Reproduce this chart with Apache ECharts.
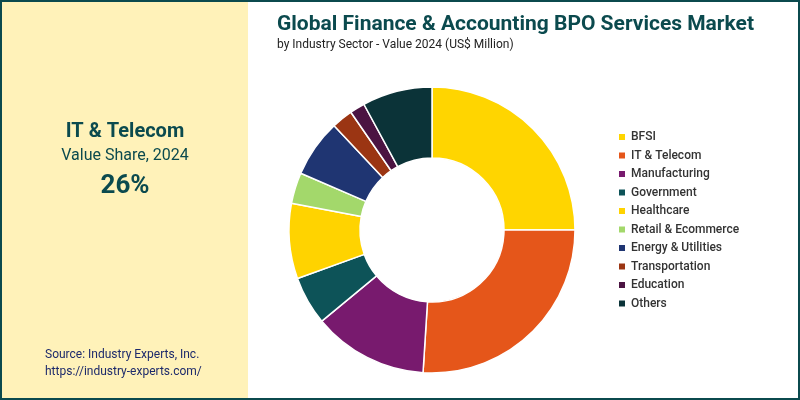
<!DOCTYPE html><html><head><meta charset="utf-8"><script src="https://cdn.jsdelivr.net/npm/echarts@6/dist/echarts.min.js"></script>
<style>html,body{margin:0;padding:0;}#c{width:800px;height:400px;}</style></head><body><div id="c"></div><script>
const categories=['BFSI','IT & Telecom','Manufacturing','Government','Healthcare','Retail & Ecommerce','Energy & Utilities','Transportation','Education','Others'];
const values=[25,26,13,5.5,8.5,3.5,6.5,2.4,1.7,7.9];
const colors=['#FFD500','#E5561A','#781A6E','#0D5358','#FFD300','#A3D86B','#1F3572','#9B3513','#4B1442','#0B3338'];
const chart=echarts.init(document.getElementById('c'));
const dark='#0B4A4E';
chart.setOption({
 animation:false,
 graphic:[
  {type:'rect',shape:{x:1,y:1,width:798,height:398},style:{fill:'#fff',stroke:dark,lineWidth:2},z:-10},
  {type:'rect',shape:{x:2,y:2,width:246,height:396},style:{fill:'#FFF2B9'},z:-9},
  {type:'text',x:125,y:122,style:{text:'IT & Telecom',fill:dark,font:'bold 20px Roboto',align:'center'}},
  {type:'text',x:125,y:148,style:{text:'Value Share, 2024',fill:dark,font:'16px Roboto',align:'center'}},
  {type:'text',x:125,y:173,style:{text:'26%',fill:dark,font:'bold 26px Roboto',align:'center'}},
  {type:'text',x:45,y:349,style:{text:'Source: Industry Experts, Inc.',fill:'#1d2a6b',font:'12px Roboto'}},
  {type:'text',x:45,y:366,style:{text:'https://industry-experts.com/',fill:'#1d2a6b',font:'12px Roboto'}},
  {type:'text',x:277,y:14,style:{text:'Global Finance & Accounting BPO Services Market',fill:dark,font:'bold 21px Roboto'}},
  {type:'text',x:277,y:39,style:{text:'by Industry Sector - Value 2024 (US$ Million)',fill:'#222',font:'12px Roboto'}}
 ],
 legend:{orient:'vertical',left:612,top:126,itemWidth:8,itemHeight:8,itemGap:6.5,icon:'rect',
  textStyle:{fontSize:12,color:'#333',fontWeight:500,fontFamily:'Roboto'},data:categories},
 series:[{type:'pie',center:[432,230],radius:[72,143],startAngle:90,clockwise:true,label:{show:false},
  itemStyle:{borderColor:'#fff',borderWidth:1.5},
  data:categories.map((n,i)=>({name:n,value:values[i],itemStyle:{color:colors[i]}}))}]
});
</script></body></html>
